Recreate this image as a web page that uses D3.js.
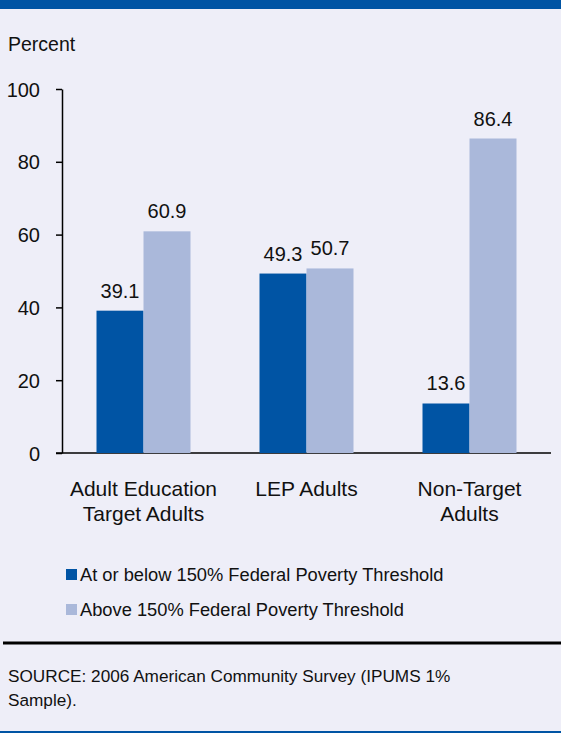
<!DOCTYPE html>
<html><head><meta charset="utf-8">
<script src="https://cdn.jsdelivr.net/npm/d3@7"></script>
<style>
html,body{margin:0;padding:0;background:#eeeef8;}
svg{display:block;font-family:"Liberation Sans",Arial,sans-serif;}
</style></head><body>
<svg id="c" width="561" height="733"></svg>
<script>
const categories = [["Adult Education","Target Adults"],["LEP Adults"],["Non-Target","Adults"]];
const seriesNames = ["At or below 150% Federal Poverty Threshold","Above 150% Federal Poverty Threshold"];
const belowValues = [39.1, 49.3, 13.6];
const aboveValues = [60.9, 50.7, 86.4];
const yTicks = [0,20,40,60,80,100];
const colors = ["#0054a4","#aab8da"];

const svg = d3.select("#c");
svg.append("rect").attr("x",0).attr("y",0).attr("width",561).attr("height",733).attr("fill","#eeeef8");
svg.append("rect").attr("x",0).attr("y",0).attr("width",561).attr("height",9).attr("fill","#0054a4");
svg.append("rect").attr("x",0).attr("y",731).attr("width",561).attr("height",2).attr("fill","#0054a4");

svg.append("text").attr("x",8).attr("y",51).attr("font-size",19.5).attr("fill","#111").text("Percent");

const y = d3.scaleLinear().domain([0,100]).range([453,89]);
const x = d3.scaleBand().domain(d3.range(categories.length)).range([62,551]).paddingInner(0).paddingOuter(0);
const barW = 47;

// y axis
const yAxis = svg.append("g").attr("transform","translate(62,0)")
  .call(d3.axisLeft(y).tickValues(yTicks).tickSize(6).tickPadding(16).tickSizeOuter(0));
yAxis.select(".domain").attr("stroke","#000").attr("stroke-width",1.5);
yAxis.selectAll(".tick line").attr("stroke","#000").attr("stroke-width",1.5);
yAxis.selectAll(".tick text").attr("font-size",20).attr("fill","#111").attr("font-family","Liberation Sans, Arial, sans-serif").attr("dy","0.35em");

// x axis line
svg.append("line").attr("x1",56).attr("x2",551).attr("y1",y(0)).attr("y2",y(0)).attr("stroke","#000").attr("stroke-width",1.5);

const series = [belowValues, aboveValues];
series.forEach((vals, si) => {
  const g = svg.append("g");
  vals.forEach((v, i) => {
    const cx = x(i) + x.bandwidth()/2;
    const bx = si === 0 ? cx - barW : cx;
    g.append("rect").attr("x",bx).attr("y",y(v)).attr("width",barW).attr("height",y(0)-y(v)).attr("fill",colors[si]);
    g.append("text").attr("x",bx+barW/2).attr("y",y(v)-13).attr("text-anchor","middle")
      .attr("font-size",20).attr("fill","#111").text(v.toFixed(1));
  });
});

// category labels
categories.forEach((lines, i) => {
  const cx = x(i) + x.bandwidth()/2;
  const t = svg.append("text").attr("text-anchor","middle").attr("font-size",21).attr("fill","#111");
  lines.forEach((ln, k) => {
    t.append("tspan").attr("x",cx).attr("y",496 + k*25).text(ln);
  });
});

// legend
seriesNames.forEach((name, i) => {
  const ly = 581 + i*35;
  svg.append("rect").attr("x",66).attr("y",ly-12).attr("width",11).attr("height",11).attr("fill",colors[i]);
  svg.append("text").attr("x",80).attr("y",ly).attr("font-size",18.3).attr("fill","#111").text(name);
});

// separator
svg.append("line").attr("x1",3).attr("x2",561).attr("y1",643).attr("y2",643).attr("stroke","#000").attr("stroke-width",3);

// source
const s = svg.append("text").attr("font-size",17.2).attr("fill","#111");
s.append("tspan").attr("x",8).attr("y",682).text("SOURCE: 2006 American Community Survey (IPUMS 1%");
s.append("tspan").attr("x",8).attr("y",706).text("Sample).");
</script>
</body></html>
